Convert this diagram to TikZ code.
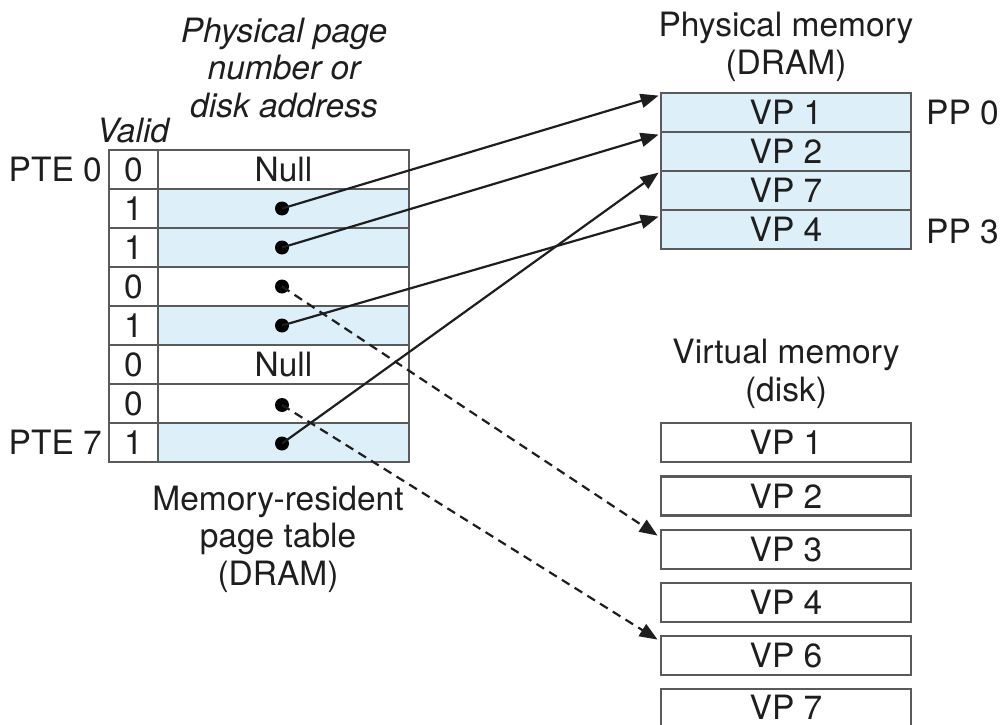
\documentclass[tikz,border=0pt]{standalone}
\usepackage{fontspec}
\setmainfont{TeX Gyre Heros}
\usetikzlibrary{arrows.meta,calc}
\definecolor{cellblue}{RGB}{221,240,250}
\definecolor{edgegray}{RGB}{90,90,90}
\definecolor{inkdark}{RGB}{30,30,30}
\begin{document}
\begin{tikzpicture}[x=1pt,y=-1pt,
  every node/.style={font=\fontsize{33.5}{37.5}\selectfont, inner sep=0pt, text=inkdark},
  itl/.style={font=\fontsize{33.5}{37.5}\selectfont\itshape},
  cell/.style={draw=edgegray, line width=2.8pt, minimum height=39pt, anchor=center},
  vcell/.style={cell, minimum width=49pt},
  pcell/.style={cell, minimum width=251pt},
  mcell/.style={cell, minimum width=250pt},
  full/.style={fill=cellblue},
  dot/.style={circle, fill=black, minimum size=14pt, inner sep=0pt},
  link/.style={draw=inkdark, line width=2.2pt, -{Triangle[length=18pt,width=14pt]}},
  dlink/.style={link, dash pattern=on 9pt off 6pt},
  lbl/.style={align=center}
]
\clip (0,0) rectangle (1002,725);

% page table
\node[vcell] (v0) at (133.5,169.5) {0};
\node[pcell] (c0) at (283.5,169.5) {Null};
\node[vcell] (v1) at (133.5,208.5) {1};
\node[pcell,full] (c1) at (283.5,208.5) {};
\node[vcell] (v2) at (133.5,247.5) {1};
\node[pcell,full] (c2) at (283.5,247.5) {};
\node[vcell] (v3) at (133.5,286.5) {0};
\node[pcell] (c3) at (283.5,286.5) {};
\node[vcell] (v4) at (133.5,325.5) {1};
\node[pcell,full] (c4) at (283.5,325.5) {};
\node[vcell] (v5) at (133.5,364.5) {0};
\node[pcell] (c5) at (283.5,364.5) {Null};
\node[vcell] (v6) at (133.5,403.5) {0};
\node[pcell] (c6) at (283.5,403.5) {};
\node[vcell] (v7) at (133.5,442.5) {1};
\node[pcell,full] (c7) at (283.5,442.5) {};

% dots
\node[dot] (d1) at (282,208.5) {};
\node[dot] (d2) at (282,247.5) {};
\node[dot] (d3) at (282,286.5) {};
\node[dot] (d4) at (282,325.5) {};
\node[dot] (d6) at (282,405) {};
\node[dot] (d7) at (282,443.5) {};

% physical memory
\node[mcell,full] (p0) at (786,112.5) {VP 1};
\node[mcell,full] (p1) at (786,151.5) {VP 2};
\node[mcell,full] (p2) at (786,190.5) {VP 7};
\node[mcell,full] (p3) at (786,229.5) {VP 4};

% virtual memory (disk)
\node[mcell] (k1) at (786,442.5) {VP 1};
\node[mcell] (k2) at (786,496) {VP 2};
\node[mcell] (k3) at (786,549.5) {VP 3};
\node[mcell] (k4) at (786,602.5) {VP 4};
\node[mcell] (k6) at (786,655.5) {VP 6};
\node[mcell, minimum height=37pt] (k7) at (786,707.5) {VP 7};

% arrow targets
\coordinate (t0) at ($(p0.north west)+(-1,4)$);
\coordinate (t1) at ($(p1.north west)+(-1,4)$);
\coordinate (t2) at ($(p2.north west)+(-1,3)$);
\coordinate (t3) at ($(p3.north west)+(-1,8)$);
\coordinate (s3) at ($(k3.north west)+(-2,7)$);
\coordinate (s6) at ($(k6.north west)+(-2,5)$);

\draw[link] (d1.center) -- (t0);
\draw[link] (d2.center) -- (t1);
\draw[link] (d4.center) -- (t3);
\draw[link] (d7.center) -- (t2);
\draw[dlink] (d3.center) -- (s3);
\draw[dlink] (d6.center) -- (s6);

% labels
\node[lbl,itl] (ppn) at (284,68) {Physical page\\number or\\disk address};
\node[itl] (valid) at (133,131) {Valid};
\node[anchor=east] (pte0) at (102,169.5) {PTE 0};
\node[anchor=east] (pte7) at (102,442.5) {PTE 7};
\node[lbl] (mrpt) at (278,539) {Memory-resident\\page table\\(DRAM)};
\node[lbl] (pm) at (786,47) {Physical memory\\(DRAM)};
\node[anchor=west] (pp0) at (926,113) {PP 0};
\node[anchor=west] (pp3) at (926,232) {PP 3};
\node[lbl] (vm) at (786,374) {Virtual memory\\(disk)};
\end{tikzpicture}
\end{document}
